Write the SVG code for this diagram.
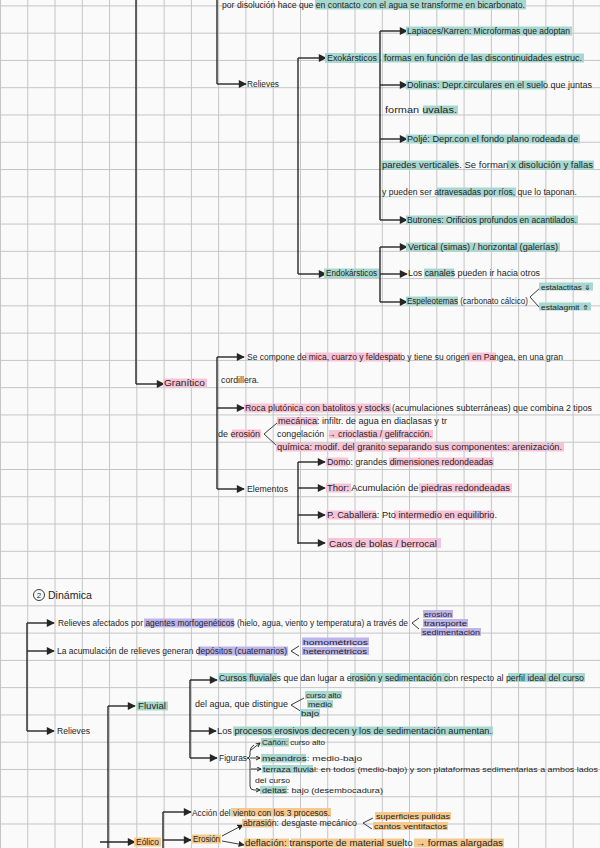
<svg xmlns="http://www.w3.org/2000/svg" width="600" height="848" viewBox="0 0 600 848">
<defs>
<pattern id="grid" x="0" y="5.4" width="27.27" height="27.27" patternUnits="userSpaceOnUse"><path d="M0 0.5H27.27M0.5 0V27.27" fill="none" stroke="#c4c4c4" stroke-width="1"/></pattern>
<marker id="ah" viewBox="0 0 10 10" refX="9" refY="5" markerWidth="9" markerHeight="8" markerUnits="userSpaceOnUse" orient="auto"><path d="M0 0L10 5L0 10Z" fill="#262626"/></marker>
<marker id="am" viewBox="0 0 10 10" refX="9" refY="5" markerWidth="6" markerHeight="6" markerUnits="userSpaceOnUse" orient="auto"><path d="M0 0L10 5L0 10Z" fill="#262626"/></marker>
<marker id="as" viewBox="0 0 10 10" refX="9" refY="5" markerWidth="5" markerHeight="5" markerUnits="userSpaceOnUse" orient="auto"><path d="M1 1L9 5L1 9" fill="none" stroke="#262626" stroke-width="2"/></marker>
<style>
.t{font-family:"Liberation Sans",Arial,sans-serif;font-size:8.5px;fill:#1f1f1f}
.s{font-size:7px}
.ln{fill:none;stroke:#262626;stroke-width:1.4}
.th{fill:none;stroke:#262626;stroke-width:0.9}
.a{marker-end:url(#ah)}
.am{marker-end:url(#am)}
.as{marker-end:url(#as)}
.hT{fill:#a7d7cf}
.hP{fill:#f8c3d6}
.hV{fill:#bdb4ea}
.hO{fill:#f5c98e}
</style>
</defs>
<rect width="600" height="848" fill="#fafafa"/>
<rect width="600" height="848" fill="url(#grid)"/>

<g id="connectors">
<path class="ln" d="M136 0V384"/>
<path class="ln a" d="M136 384H164"/>
<path class="ln" d="M217 0V84"/>
<path class="ln a" d="M217 84H246"/>
<path class="ln" d="M298 58V274"/>
<path class="ln a" d="M298 58H326"/>
<path class="ln a" d="M298 274H326"/>
<path class="ln" d="M380 31V220"/>
<path class="ln a" d="M380 31H407"/>
<path class="ln a" d="M380 85H407"/>
<path class="ln a" d="M380 139H407"/>
<path class="ln a" d="M380 220H407"/>
<path class="ln" d="M380 247V302"/>
<path class="ln a" d="M380 247H407"/>
<path class="ln a" d="M380 274H407"/>
<path class="ln a" d="M380 302H407"/>
<path class="ln" d="M217 357V489"/>
<path class="ln a" d="M217 357H244"/>
<path class="ln a" d="M217 408H244"/>
<path class="ln a" d="M217 489H244"/>
<path class="ln" d="M298 462V544"/>
<path class="ln a" d="M298 462H325"/>
<path class="ln a" d="M298 488H325"/>
<path class="ln a" d="M298 515H325"/>
<path class="ln a" d="M298 543H325"/>
<path class="ln" d="M27 623V731"/>
<path class="ln a" d="M27 623H54"/>
<path class="ln a" d="M27 651H54"/>
<path class="ln a" d="M27 731H54"/>
<path class="ln" d="M108 706V848"/>
<path class="ln a" d="M108 706H135"/>
<path class="ln a" d="M100 842H135"/>
<path class="ln" d="M190 680V758"/>
<path class="ln a" d="M190 680H217"/>
<path class="ln a" d="M190 731H216"/>
<path class="ln a" d="M190 758H217"/>
<path class="ln" d="M163 812V848"/>
<path class="ln a" d="M163 812H191"/>
<path class="ln a" d="M163 840H191"/>
<path class="th am" d="M222 836L243 825"/>
<path class="th am" d="M222 841L244 845"/>
<path class="th" d="M540 288L530 297L539 307"/>
<path class="th" d="M277 423L264 434L277 446"/>
<path class="th" d="M419 618L412 623L419 629"/>
<path class="th" d="M299 646L291 651L299 656"/>
<path class="th" d="M304 698L291 705L302 712"/>
<path class="th" d="M373 818L363 823L372 829"/>
<path class="th" d="M254 745Q250 747 250 752V755Q250 758 247 758Q250 758 250 761V786Q250 790 254 790"/>
<path class="th as" d="M251 750L260 743"/>
<path class="th as" d="M250 758H260"/>
<path class="th as" d="M251 769H261"/>
<path class="th as" d="M254 790H260"/>
</g>

<g id="n-top"><rect class="hT" x="315" y="0" width="211" height="9.5"/><text class="t" x="222" y="7.5" textLength="303" lengthAdjust="spacingAndGlyphs">por disolución hace que en contacto con el agua se transforme en bicarbonato.</text></g>
<g id="n-lapiaces"><rect class="hT" x="406" y="26.5" width="166" height="9"/><text class="t" x="407" y="34" textLength="163" lengthAdjust="spacingAndGlyphs">Lapiaces/Karren: Microformas que adoptan</text></g>
<g id="n-exo"><rect class="hT" x="325" y="53" width="54" height="10"/><text class="t" x="327" y="61" textLength="50" lengthAdjust="spacingAndGlyphs">Exokársticos</text></g>
<g id="n-exo-desc"><rect class="hT" x="382" y="53.5" width="202" height="9"/><text class="t" x="384" y="61" textLength="198" lengthAdjust="spacingAndGlyphs">formas en función de las discontinuidades estruc.</text></g>
<g id="n-relieves1"><text class="t" x="247" y="87" textLength="32" lengthAdjust="spacingAndGlyphs">Relieves</text></g>
<g id="n-dolinas"><rect class="hT" x="406" y="80.5" width="139" height="9"/><text class="t" x="407" y="88" textLength="185" lengthAdjust="spacingAndGlyphs">Dolinas: Depr.circulares en el suelo que juntas</text><rect class="hT" x="423" y="105.5" width="35" height="9"/><text class="t" x="385" y="113" textLength="72" lengthAdjust="spacingAndGlyphs">forman uvalas.</text></g>
<g id="n-polje"><rect class="hT" x="406" y="134.5" width="174" height="9"/><text class="t" x="407" y="142" textLength="171" lengthAdjust="spacingAndGlyphs">Poljé: Depr.con el fondo plano rodeada de</text><rect class="hT" x="381" y="160.5" width="76" height="9"/><rect class="hT" x="507" y="160.5" width="87" height="9"/><text class="t" x="382" y="168" textLength="211" lengthAdjust="spacingAndGlyphs">paredes verticales. Se forman x disolución y fallas</text><rect class="hT" x="437" y="187.5" width="79" height="9"/><text class="t" x="382" y="195" textLength="195" lengthAdjust="spacingAndGlyphs">y pueden ser atravesadas por ríos, que lo taponan.</text></g>
<g id="n-butrones"><rect class="hT" x="406" y="215.5" width="172" height="9"/><text class="t" x="407" y="223" textLength="170" lengthAdjust="spacingAndGlyphs">Butrones: Orificios profundos en acantilados.</text></g>
<g id="n-vertical"><rect class="hT" x="406" y="242.5" width="154" height="9"/><text class="t" x="408" y="250" textLength="150" lengthAdjust="spacingAndGlyphs">Vertical (simas) / horizontal (galerías)</text></g>
<g id="n-endo"><rect class="hT" x="324" y="268.5" width="55" height="9.5"/><text class="t" x="326" y="276" textLength="51" lengthAdjust="spacingAndGlyphs">Endokársticos</text></g>
<g id="n-canales"><rect class="hT" x="424" y="268.5" width="30" height="9"/><text class="t" x="408" y="276" textLength="132" lengthAdjust="spacingAndGlyphs">Los canales pueden ir hacia otros</text></g>
<g id="n-espeleo"><rect class="hT" x="406" y="296.5" width="52" height="9"/><text class="t" x="407" y="304" textLength="121" lengthAdjust="spacingAndGlyphs">Espeleotemas (carbonato cálcico)</text><rect class="hT" x="539" y="282.5" width="54" height="8"/><text class="t s" x="541" y="289.5" textLength="50" lengthAdjust="spacingAndGlyphs">estalactitas ⇓</text><rect class="hT" x="539" y="302.5" width="52" height="8"/><text class="t s" x="541" y="309.5" textLength="48" lengthAdjust="spacingAndGlyphs">estalagmit ⇑</text></g>

<g id="n-granitico"><rect class="hP" x="163" y="378.5" width="44" height="9"/><text class="t" x="164" y="386" textLength="41" lengthAdjust="spacingAndGlyphs">Granítico</text></g>
<g id="n-compone"><rect class="hP" x="305" y="352.5" width="97" height="9"/><rect class="hP" x="467" y="352.5" width="29" height="9"/><text class="t" x="247" y="360" textLength="316" lengthAdjust="spacingAndGlyphs">Se compone de mica, cuarzo y feldespato y tiene su origen en Pangea, en una gran</text><text class="t" x="221" y="383" textLength="38" lengthAdjust="spacingAndGlyphs">cordillera.</text></g>
<g id="n-roca"><rect class="hP" x="244" y="403.5" width="147" height="9"/><text class="t" x="245" y="411" textLength="347" lengthAdjust="spacingAndGlyphs">Roca plutónica con batolitos y stocks (acumulaciones subterráneas) que combina 2 tipos</text></g>
<g id="n-erosion"><rect class="hP" x="232" y="429.5" width="29" height="9"/><text class="t" x="218" y="437" textLength="42" lengthAdjust="spacingAndGlyphs">de erosión</text><rect class="hP" x="277" y="417" width="41" height="8.5"/><text class="t" x="278" y="424" textLength="169" lengthAdjust="spacingAndGlyphs">mecánica: infiltr. de agua en diaclasas y tr</text><rect class="hP" x="329" y="430" width="104" height="8.5"/><text class="t" x="277" y="437" textLength="155" lengthAdjust="spacingAndGlyphs">congelación → crioclastia / gelifracción.</text><rect class="hP" x="276" y="443" width="288" height="8.5"/><text class="t" x="277" y="450" textLength="285" lengthAdjust="spacingAndGlyphs">química: modif. del granito separando sus componentes: arenización.</text></g>
<g id="n-elementos"><text class="t" x="247" y="492" textLength="41" lengthAdjust="spacingAndGlyphs">Elementos</text></g>
<g id="n-domo"><rect class="hP" x="326" y="457.5" width="22" height="9"/><rect class="hP" x="389" y="457.5" width="105" height="9"/><text class="t" x="327" y="465" textLength="166" lengthAdjust="spacingAndGlyphs">Domo: grandes dimensiones redondeadas</text></g>
<g id="n-thor"><rect class="hP" x="326" y="483.5" width="25" height="9"/><rect class="hP" x="419" y="483.5" width="93" height="9"/><text class="t" x="327" y="491" textLength="183" lengthAdjust="spacingAndGlyphs">Thor: Acumulación de piedras redondeadas</text></g>
<g id="n-caballera"><rect class="hP" x="326" y="510.5" width="50" height="9"/><rect class="hP" x="394" y="510.5" width="100" height="9"/><text class="t" x="327" y="518" textLength="170" lengthAdjust="spacingAndGlyphs">P. Caballera: Pto intermedio en equilibrio.</text></g>
<g id="n-caos"><rect class="hP" x="327" y="538" width="114" height="10"/><text class="t" x="329" y="546.5" textLength="108" lengthAdjust="spacingAndGlyphs" style="font-size:9.5px">Caos de bolas / berrocal</text></g>

<g id="n-dinamica"><circle cx="39" cy="595" r="5.5" fill="none" stroke="#262626" stroke-width="0.9"/><text class="t" x="39" y="598" text-anchor="middle" style="font-size:8px">2</text><text class="t" x="48" y="598.5" textLength="44" lengthAdjust="spacingAndGlyphs" style="font-size:10px">Dinámica</text></g>
<g id="n-afectados"><rect class="hV" x="144" y="618.5" width="90" height="9"/><text class="t" x="58" y="626" textLength="350" lengthAdjust="spacingAndGlyphs">Relieves afectados por agentes morfogenéticos (hielo, agua, viento y temperatura) a través de</text><rect class="hV" x="423" y="610" width="30" height="8"/><text class="t s" x="424" y="617" textLength="28" lengthAdjust="spacingAndGlyphs">erosión</text><rect class="hV" x="423" y="619" width="45" height="8"/><text class="t s" x="424" y="626" textLength="43" lengthAdjust="spacingAndGlyphs">transporte</text><rect class="hV" x="421" y="628" width="60" height="8"/><text class="t s" x="422" y="635" textLength="58" lengthAdjust="spacingAndGlyphs">sedimentación</text></g>
<g id="n-acumulacion"><rect class="hV" x="198" y="646.5" width="90" height="9"/><text class="t" x="57" y="654" textLength="230" lengthAdjust="spacingAndGlyphs">La acumulación de relieves generan depósitos (cuaternarios)</text><rect class="hV" x="302" y="637.5" width="67" height="8"/><text class="t s" x="303" y="644.5" textLength="65" lengthAdjust="spacingAndGlyphs">homométricos</text><rect class="hV" x="302" y="647" width="67" height="8"/><text class="t s" x="303" y="654" textLength="64" lengthAdjust="spacingAndGlyphs">heterométricos</text></g>
<g id="n-relieves2"><text class="t" x="57" y="734" textLength="33" lengthAdjust="spacingAndGlyphs">Relieves</text></g>
<g id="n-fluvial"><rect class="hT" x="136" y="701.5" width="32" height="9"/><text class="t" x="138" y="709" textLength="28" lengthAdjust="spacingAndGlyphs">Fluvial</text></g>
<g id="n-cursos"><rect class="hT" x="218" y="673" width="59" height="9"/><rect class="hT" x="350" y="673" width="100" height="9"/><rect class="hT" x="508" y="673" width="77" height="9"/><text class="t" x="219" y="681" textLength="365" lengthAdjust="spacingAndGlyphs">Cursos fluviales que dan lugar a erosión y sedimentación con respecto al perfil ideal del curso</text><text class="t" x="195" y="707" textLength="93" lengthAdjust="spacingAndGlyphs">del agua, que distingue</text><rect class="hT" x="305" y="691" width="37" height="8"/><text class="t s" x="306" y="698" textLength="35" lengthAdjust="spacingAndGlyphs">curso alto</text><rect class="hT" x="307" y="700" width="26" height="8"/><text class="t s" x="308" y="707" textLength="24" lengthAdjust="spacingAndGlyphs">medio</text><rect class="hT" x="300" y="709" width="20" height="8"/><text class="t s" x="301" y="716" textLength="18" lengthAdjust="spacingAndGlyphs">bajo</text></g>
<g id="n-procesos"><rect class="hT" x="233" y="726.5" width="260" height="9"/><text class="t" x="217" y="734" textLength="275" lengthAdjust="spacingAndGlyphs">Los procesos erosivos decrecen y los de sedimentación aumentan.</text></g>
<g id="n-figuras"><text class="t" x="219" y="761" textLength="28" lengthAdjust="spacingAndGlyphs">Figuras</text>
<rect class="hT" x="261" y="738" width="28" height="8.5"/><text class="t s" x="262" y="745" textLength="63" lengthAdjust="spacingAndGlyphs">Cañón: curso alto</text>
<rect class="hT" x="261" y="754" width="45" height="8.5"/><text class="t s" x="262" y="761" textLength="100" lengthAdjust="spacingAndGlyphs">meandros: medio-bajo</text>
<rect class="hT" x="262" y="765" width="51" height="8"/><text class="t s" x="263" y="772" textLength="335" lengthAdjust="spacingAndGlyphs">terraza fluvial: en todos (medio-bajo) y son plataformas sedimentarias a ambos lados</text>
<text class="t s" x="255" y="783" textLength="35" lengthAdjust="spacingAndGlyphs">del curso</text>
<rect class="hT" x="260" y="786" width="27" height="8"/><text class="t s" x="262" y="793" textLength="121" lengthAdjust="spacingAndGlyphs">deltas: bajo (desembocadura)</text></g>
<g id="n-eolico"><rect class="hO" x="134" y="837.5" width="27" height="9"/><text class="t" x="136" y="845" textLength="23" lengthAdjust="spacingAndGlyphs">Eólico</text></g>
<g id="n-accion"><rect class="hO" x="231" y="808" width="100" height="8.5"/><text class="t" x="192" y="815.5" textLength="138" lengthAdjust="spacingAndGlyphs">Acción del viento con los 3 procesos.</text></g>
<g id="n-erosion2"><rect class="hO" x="191" y="834.5" width="30" height="9"/><text class="t" x="193" y="842" textLength="27" lengthAdjust="spacingAndGlyphs">Erosión</text></g>
<g id="n-abrasion"><rect class="hO" x="242" y="819" width="32" height="8.5"/><text class="t" x="243" y="826" textLength="114" lengthAdjust="spacingAndGlyphs">abrasión: desgaste mecánico</text><rect class="hO" x="375" y="812" width="76" height="8"/><text class="t s" x="376" y="819" textLength="74" lengthAdjust="spacingAndGlyphs">superficies pulidas</text><rect class="hO" x="373" y="822" width="75" height="8"/><text class="t s" x="374" y="829" textLength="73" lengthAdjust="spacingAndGlyphs">cantos ventifactos</text></g>
<g id="n-deflacion"><rect class="hO" x="244" y="838.5" width="45" height="9"/><rect class="hO" x="291" y="838.5" width="113" height="9"/><rect class="hO" x="414" y="838.5" width="90" height="9"/><text class="t" x="245" y="846" textLength="258" lengthAdjust="spacingAndGlyphs">deflación: transporte de material suelto → formas alargadas</text></g>
</svg>
